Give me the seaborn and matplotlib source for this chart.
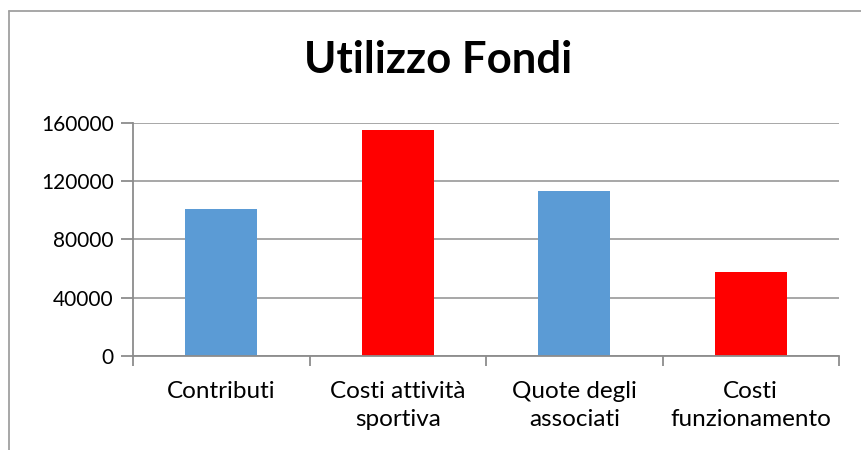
import pandas as pd
import seaborn as sns
import matplotlib.pyplot as plt
from matplotlib.lines import Line2D

# dati
categorie = ["Contributi", "Costi attività\nsportiva", "Quote degli\nassociati", "Costi\nfunzionamento"]
valori = [101000, 155000, 113500, 57800]
colori = ["#5B9BD5", "#FF0000", "#5B9BD5", "#FF0000"]
y_ticks = [0, 40000, 80000, 120000, 160000]


def set_config():
    sns.set_theme(style="white")
    plt.rcParams["font.family"] = ["Lato", "DejaVu Sans"]
    plt.rcParams["text.color"] = "black"


def show_utilizzo_fondi():
    df = pd.DataFrame({"categoria": categorie, "valore": valori})

    fig = plt.figure(figsize=(8.61, 4.5), dpi=100)
    ax = fig.add_axes([133 / 861, 1 - 355.7 / 450, 706 / 861, 232.7 / 450])

    sns.barplot(
        data=df, x="categoria", y="valore", hue="categoria",
        palette=colori, width=0.41, legend=False, ax=ax, saturation=1,
        edgecolor="none",
    )

    ax.set_ylim(0, 160000)
    ax.set_xlim(-0.5, 3.5)
    ax.set_yticks(y_ticks)
    ax.set_yticklabels([str(v) for v in y_ticks], fontsize=15, color="black")
    ax.set_xlabel("")
    ax.set_ylabel("")

    # griglia orizzontale grigia
    ax.yaxis.grid(True, color="#A0A0A0", linewidth=1.3)
    ax.set_axisbelow(True)
    for s in ["top", "right"]:
        ax.spines[s].set_visible(False)
    for s in ["left", "bottom"]:
        ax.spines[s].set_color("#8C8C8C")
        ax.spines[s].set_linewidth(1.3)

    ax.tick_params(axis="y", length=9, width=1.3, color="#8C8C8C", left=True, pad=5)
    ax.set_xticks(range(len(categorie)))
    ax.set_xticklabels(categorie, fontsize=17.5, color="black", linespacing=1.45)
    ax.tick_params(axis="x", which="major", length=0, pad=18)
    ax.set_xticks([-0.5, 0.5, 1.5, 2.5, 3.5], minor=True)
    ax.tick_params(axis="x", which="minor", length=7, width=1.3, color="#8C8C8C", bottom=True)

    fig.text(438 / 861, 1 - 60 / 450, "Utilizzo Fondi", ha="center", va="center",
             fontsize=31.5, fontweight="bold", color="black")

    # cornice del grafico
    fig.add_artist(Line2D([8.5 / 861, 8.5 / 861], [0, 1 - 10.5 / 450], color="#A0A0A0", lw=1.3,
                          transform=fig.transFigure))
    fig.add_artist(Line2D([8.5 / 861, 1], [1 - 10.5 / 450, 1 - 10.5 / 450], color="#A0A0A0", lw=1.3,
                          transform=fig.transFigure))

    fig.savefig("out.png", dpi=100)


def main():
    set_config()
    show_utilizzo_fondi()


if __name__ == "__main__":
    main()
